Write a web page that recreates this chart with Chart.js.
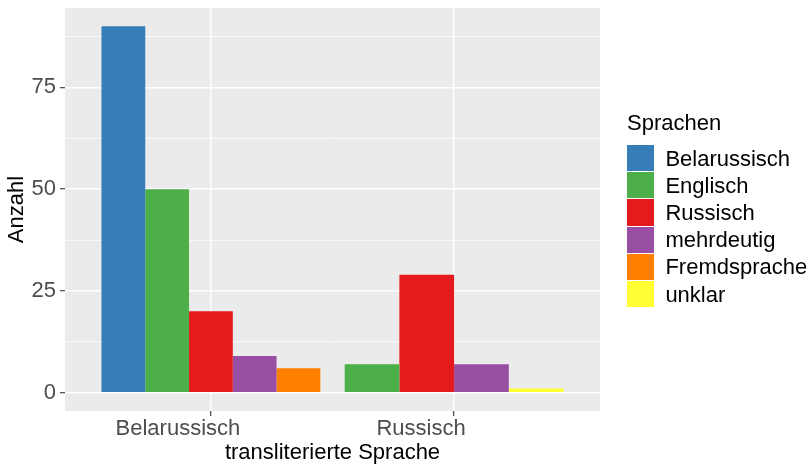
<!DOCTYPE html>
<html>
<head>
<meta charset="utf-8">
<script src="https://cdn.jsdelivr.net/npm/chart.js@4.4.1/dist/chart.umd.min.js"></script>
<style>
  body { margin: 0; background: #fff; font-family: "Liberation Sans", Arial, sans-serif; }
  #wrap { position: relative; width: 810px; height: 464px; }
  #legend { position: absolute; left: 627px; top: 112px; }
  #legend .title { font-size: 22px; line-height: 22px; height: 33px; color: #000; }
  #legend .row { display: flex; align-items: center; height: 27.2px; }
  #legend .key { width: 26.7px; height: 26.2px; margin-bottom: 1px; }
  #legend .lbl { font-size: 22px; margin-left: 11.7px; color: #000; }
</style>
</head>
<body>
<div id="wrap">
  <canvas id="graf" width="810" height="464"></canvas>
  <div id="legend"></div>
</div>
<script>
const categories = ['Belarussisch', 'Russisch']
const languages = ['Belarussisch', 'Englisch', 'Russisch', 'mehrdeutig', 'Fremdsprache', 'unklar']
const countsBelarussisch = [90, 50, 20, 9, 6, null]
const countsRussisch = [null, 7, 29, 7, null, 1]
const colors = ['#377EB8', '#4DAF4A', '#E41A1C', '#984EA3', '#FF7F00', '#FFFF33']
const yTicks = [0, 12.5, 25, 37.5, 50, 62.5, 75, 87.5]

const counts = [countsBelarussisch, countsRussisch]

Chart.defaults.font.family = '"Liberation Sans", Arial, sans-serif'

const panelBg = {
  id: 'panelBg',
  beforeDraw(chart) {
    const a = chart.chartArea
    chart.ctx.save()
    chart.ctx.fillStyle = '#EBEBEB'
    chart.ctx.fillRect(a.left, a.top, a.right - a.left, a.bottom - a.top)
    chart.ctx.restore()
  }
}

let datasets = languages.map((lang, i) => ({
  label: lang,
  data: categories.map((c, j) => ({ x: j + 1, y: counts[j][i] })),
  backgroundColor: colors[i],
  borderWidth: 0,
  skipNull: true,
  categoryPercentage: 0.9,
  barPercentage: 1.0
}))

let isMajor = (v) => v % 25 === 0

new Chart(document.getElementById('graf'), {
  type: 'bar',
  data: { datasets: datasets },
  plugins: [panelBg],
  options: {
    responsive: false,
    animation: false,
    layout: { padding: { top: 8, right: 210, left: 0, bottom: 0 } },
    plugins: { legend: { display: false }, tooltip: { enabled: false } },
    scales: {
      x: {
        type: 'linear',
        min: 0.4,
        max: 2.6,
        offset: false,
        afterBuildTicks: (scale) => { scale.ticks = categories.map((c, j) => ({ value: j + 1 })) },
        afterFit: (scale) => { scale.height = 53; scale.paddingLeft = 0; scale.paddingRight = 0 },
        border: { display: false },
        grid: { offset: false, color: '#FFFFFF', lineWidth: 1.4, tickColor: '#333333', tickLength: 5, tickWidth: 1.1 },
        ticks: {
          callback: (v) => categories[Math.round(v) - 1],
          color: '#4D4D4D',
          font: { size: 22 },
          padding: 0,
          labelOffset: -33,
          autoSkip: false,
          maxRotation: 0
        },
        title: {
          display: true,
          text: 'transliterierte Sprache',
          color: '#000',
          font: { size: 22, lineHeight: 1 },
          padding: 0
        }
      },
      y: {
        min: -4.5,
        max: 94.5,
        afterBuildTicks: (scale) => { scale.ticks = yTicks.map(v => ({ value: v })) },
        afterFit: (scale) => { scale.width = 65; scale.paddingTop = 0; scale.paddingBottom = 0 },
        border: { display: false },
        grid: {
          color: '#FFFFFF',
          lineWidth: (ctx) => isMajor(ctx.tick.value) ? 1.4 : 0.7,
          tickColor: (ctx) => isMajor(ctx.tick.value) ? '#333333' : 'rgba(0,0,0,0)',
          tickLength: 5,
          tickWidth: 1.1
        },
        ticks: {
          callback: (v) => isMajor(v) ? v : '',
          color: '#4D4D4D',
          font: { size: 22 },
          padding: 4,
          autoSkip: false
        },
        title: {
          display: true,
          text: 'Anzahl',
          color: '#000',
          font: { size: 22, lineHeight: 1 },
          padding: { top: 6, bottom: 0 }
        }
      }
    }
  }
})

// legend in ggplot style
let legendEl = document.getElementById('legend')
let html = '<div class="title">Sprachen</div>'
languages.forEach((lang, i) => {
  html += '<div class="row"><div class="key" style="background:' + colors[i] + '"></div><div class="lbl">' + lang + '</div></div>'
})
legendEl.innerHTML = html
</script>
</body>
</html>
